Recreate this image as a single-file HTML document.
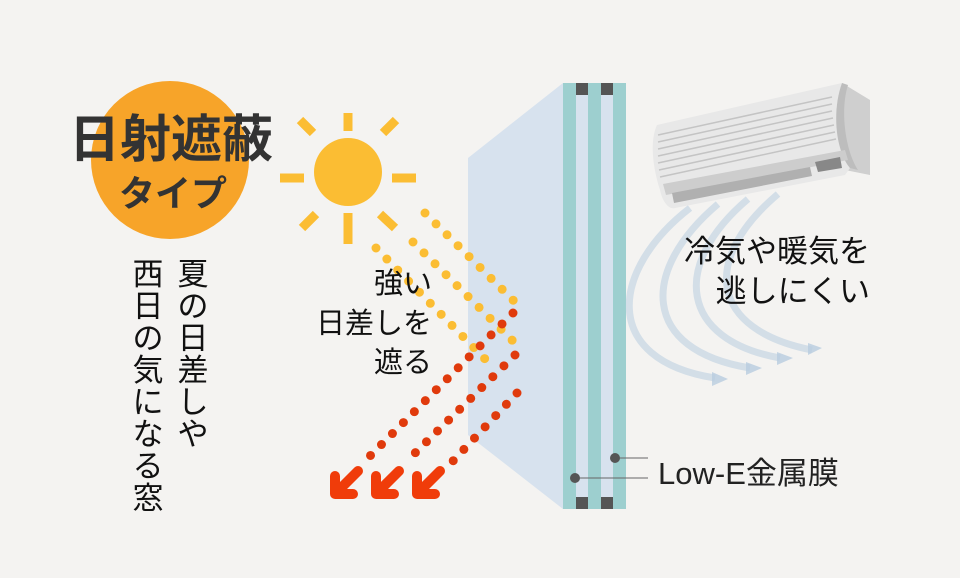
<!DOCTYPE html>
<html><head><meta charset="utf-8"><style>
html,body{margin:0;padding:0;background:#f4f3f1;}
svg{display:block}
text{font-family:"Liberation Sans","Noto Sans CJK JP",sans-serif;}
</style></head><body>
<svg width="960" height="578" viewBox="0 0 960 578" xmlns="http://www.w3.org/2000/svg">
<rect width="960" height="578" fill="#f4f3f1"/>
<polygon points="468,158 563,83 563,509 468,435" fill="#d7e2ee"/>
<rect x="563" y="83" width="63" height="426" fill="#d7e2ee"/>
<rect x="563" y="83" width="13" height="426" fill="#9dcfcf"/>
<rect x="588" y="83" width="13" height="426" fill="#9dcfcf"/>
<rect x="613" y="83" width="13" height="426" fill="#9dcfcf"/>
<rect x="576" y="83" width="12" height="12" fill="#555"/>
<rect x="601" y="83" width="12" height="12" fill="#555"/>
<rect x="576" y="497" width="12" height="12" fill="#555"/>
<rect x="601" y="497" width="12" height="12" fill="#555"/>
<line x1="615" y1="458" x2="648" y2="458" stroke="#666" stroke-width="1"/>
<line x1="575" y1="478" x2="648" y2="478" stroke="#666" stroke-width="1"/>
<circle cx="615" cy="458" r="5" fill="#555"/>
<circle cx="575" cy="478" r="5" fill="#555"/>
<text x="658" y="484" font-size="31" fill="#222">Low-E金属膜</text>

<circle cx="170" cy="160" r="79" fill="#f7a429"/>
<text x="171" y="157" font-size="51" font-weight="bold" fill="#333" text-anchor="middle">日射遮蔽</text>
<text x="173" y="206" font-size="36" font-weight="bold" fill="#333" text-anchor="middle">タイプ</text>
<g font-size="31" fill="#111" text-anchor="middle">
<text x="193" y="285">夏</text><text x="193" y="317">の</text><text x="193" y="349">日</text><text x="193" y="381">差</text><text x="193" y="413">し</text><text x="193" y="445">や</text>
<text x="148" y="285">西</text><text x="148" y="317">日</text><text x="148" y="349">の</text><text x="148" y="381">気</text><text x="148" y="413">に</text><text x="148" y="445">な</text><text x="148" y="477">る</text><text x="148" y="509">窓</text>
</g>

<circle cx="348" cy="172" r="34" fill="#fbbd33"/>
<g stroke="#fbbd33" stroke-width="9">
<line x1="348" y1="113" x2="348" y2="131"/><line x1="348" y1="213" x2="348" y2="244"/>
<line x1="280" y1="178" x2="304" y2="178"/><line x1="392" y1="178" x2="416" y2="178"/>
<line x1="300" y1="120" x2="313" y2="133"/><line x1="383" y1="133" x2="396" y2="120"/>
<line x1="302" y1="228" x2="316" y2="214"/><line x1="380" y1="214" x2="395" y2="228"/>
</g>

<g fill="none" stroke-linecap="round" stroke-width="9" stroke-dasharray="0 15.5">
<polyline points="425,213 515,302" stroke="#fbbd33"/>
<polyline points="413,242 515,343" stroke="#fbbd33"/>
<polyline points="376,248 488,362" stroke="#fbbd33"/>
<polyline points="513,313 368,458" stroke="#e03a0c"/>
<polyline points="515,355 413,455" stroke="#e03a0c"/>
<polyline points="517,393 452,462" stroke="#e03a0c"/>
</g>
<g fill="none" stroke="#f03c0a" stroke-width="10" stroke-linecap="round" stroke-linejoin="round">
<polyline points="335,476 335,494 353,494"/><line x1="337" y1="492" x2="358" y2="471"/>
<polyline points="376,476 376,494 394,494"/><line x1="378" y1="492" x2="399" y2="471"/>
<polyline points="417,476 417,494 435,494"/><line x1="419" y1="492" x2="440" y2="471"/>
</g>
<g font-size="29" fill="#111" text-anchor="end">
<text x="432" y="293">強い</text><text x="432" y="333">日差しを</text><text x="432" y="372">遮る</text>
</g>

<g fill="none" stroke="#b9cde0" stroke-width="7" opacity="0.55">
<path d="M690,208 C610,270 600,360 715,378"/>
<path d="M718,204 C640,270 640,350 750,368"/>
<path d="M748,199 C670,265 680,340 780,358"/>
<path d="M778,194 C700,260 710,330 812,350"/>
</g>
<g fill="#b9cde0" opacity="0.8">
<polygon points="712,372 728,379 712,386"/>
<polygon points="746,362 762,368 746,375"/>
<polygon points="777,352 793,358 777,365"/>
<polygon points="808,343 822,348 808,355"/>
</g>
<polygon points="842,83 870,100 870,175 845,170" fill="#cfcfcf"/>
<path d="M657,125 L842,83 C832,110 835,150 850,168 L845,175 L675,208 C668,210 662,200 660,190 C652,165 650,140 657,125Z" fill="#e8e8e8"/>
<path d="M842,83 C832,110 835,150 850,168 L858,170 C845,150 840,110 848,85Z" fill="#bdbdbd"/>
<g stroke="#c4c4c4" stroke-width="1.5">
<line x1="658" y1="135" x2="832" y2="97"/><line x1="658" y1="142" x2="832" y2="104"/><line x1="658" y1="149" x2="832" y2="111"/><line x1="658" y1="156" x2="833" y2="118"/><line x1="658" y1="163" x2="834" y2="125"/><line x1="659" y1="170" x2="835" y2="132"/><line x1="660" y1="177" x2="836" y2="139"/>
</g>
<polygon points="663,184 845,150 848,160 666,195" fill="#cdcdcd"/>
<polygon points="672,193 810,167 812,176 674,203" fill="#b0b0b0"/>
<polygon points="815,162 840,157 842,168 818,172" fill="#888"/>

<g font-size="31" fill="#111" text-anchor="end">
<text x="870" y="262">冷気や暖気を</text><text x="870" y="302">逃しにくい</text>
</g>
</svg>
</body></html>
